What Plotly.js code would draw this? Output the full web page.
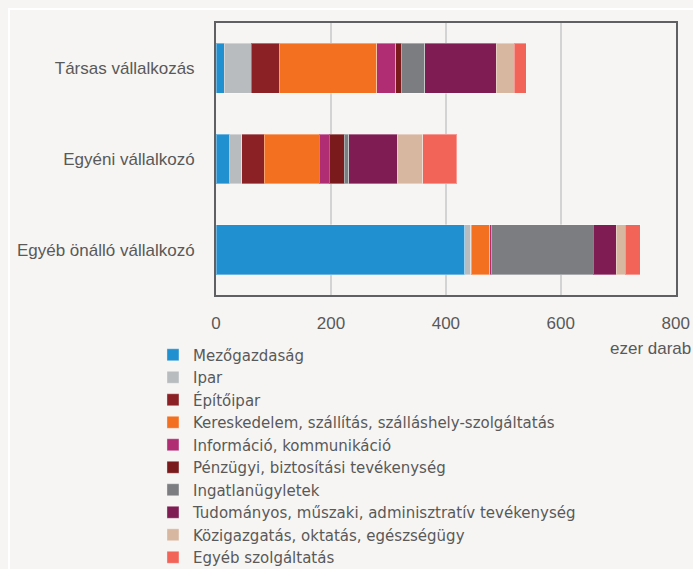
<!DOCTYPE html>
<html>
<head>
<meta charset="utf-8">
<script src="https://cdn.plot.ly/plotly-3.0.1.min.js"></script>
<style>html,body{margin:0;padding:0;background:#f6f5f3;}</style>
</head>
<body>
<div id="chart" style="width:693px;height:569px;"></div>
<script>
const categories = ['Társas vállalkozás', 'Egyéni vállalkozó', 'Egyéb önálló vállalkozó'];
const seriesNames = [
  'Mezőgazdaság',
  'Ipar',
  'Építőipar',
  'Kereskedelem, szállítás, szálláshely-szolgáltatás',
  'Információ, kommunikáció',
  'Pénzügyi, biztosítási tevékenység',
  'Ingatlanügyletek',
  'Tudományos, műszaki, adminisztratív tevékenység',
  'Közigazgatás, oktatás, egészségügy',
  'Egyéb szolgáltatás'
];
const mezogazdasag = [14, 24, 433];
const ipar = [47, 21, 10];
const epitoipar = [49, 39, 1];
const kereskedelem = [170, 96, 32];
const informacio = [33, 17, 3];
const penzugyi = [10, 26, 0.5];
const ingatlan = [40, 8, 177];
const tudomanyos = [125, 84, 40];
const kozigazgatas = [31, 45, 16];
const egyeb = [21, 59, 26];
const xTicks = [0, 200, 400, 600, 800];

const seriesValues = [mezogazdasag, ipar, epitoipar, kereskedelem, informacio,
  penzugyi, ingatlan, tudomanyos, kozigazgatas, egyeb];
const colors = ['#2190d0', '#b9bcbf', '#8b2125', '#f37021', '#b02d74',
  '#7a1a1c', '#7c7d81', '#801c54', '#d8b7a0', '#f26358'];

const traces = seriesNames.map((name, i) => ({
  type: 'bar',
  orientation: 'h',
  name: name,
  y: categories,
  x: seriesValues[i],
  marker: {color: colors[i], line: {color: 'rgba(255,255,255,0.35)', width: 1}},
  hoverinfo: 'x+name'
}));

const tickFont = {family: 'Liberation Sans, Arial, sans-serif', size: 17, color: '#595959'};

const layout = {
  width: 693,
  height: 569,
  paper_bgcolor: '#f6f5f3',
  plot_bgcolor: '#f6f5f3',
  margin: {l: 216, r: 17, t: 23, b: 274, autoexpand: false},
  barmode: 'stack',
  bargap: 0.45,
  showlegend: true,
  legend: {
    orientation: 'v',
    traceorder: 'normal',
    x: -0.137, xanchor: 'left',
    y: -0.16, yanchor: 'top',
    font: {family: 'DejaVu Sans, Liberation Sans, sans-serif', size: 15, color: '#595959'},
    bgcolor: 'rgba(0,0,0,0)',
    tracegroupgap: 0
  },
  xaxis: {
    range: [0, 800.5],
    tickvals: xTicks,
    ticktext: xTicks.map(String),
    showgrid: true,
    gridcolor: '#d3d3d3',
    gridwidth: 2,
    showline: true,
    linecolor: '#5f6062',
    linewidth: 2,
    mirror: true,
    zeroline: false,
    ticks: '',
    ticklabelstandoff: 12,
    ticklabeloverflow: 'allow',
    tickfont: tickFont,
    fixedrange: true
  },
  yaxis: {
    type: 'category',
    categoryorder: 'array',
    categoryarray: categories.slice().reverse(),
    showgrid: false,
    showline: true,
    linecolor: '#5f6062',
    linewidth: 2,
    mirror: true,
    zeroline: false,
    ticks: '',
    ticklabelstandoff: 16,
    tickfont: tickFont,
    fixedrange: true
  },
  annotations: [{
    text: 'ezer darab',
    xref: 'paper', yref: 'paper',
    x: (693 - 216) / 460, xanchor: 'right',
    y: (295 - 348) / 272, yanchor: 'middle',
    showarrow: false,
    font: tickFont
  }],
  shapes: [{
    type: 'rect', xref: 'paper', yref: 'paper',
    x0: (9 - 216) / 460, x1: (720 - 216) / 460,
    y0: (295 - 600) / 272, y1: (295 - 9) / 272,
    line: {color: '#ffffff', width: 2},
    layer: 'below'
  }]
};

Plotly.newPlot('chart', traces, layout, {displayModeBar: false, staticPlot: true});
</script>
</body>
</html>
